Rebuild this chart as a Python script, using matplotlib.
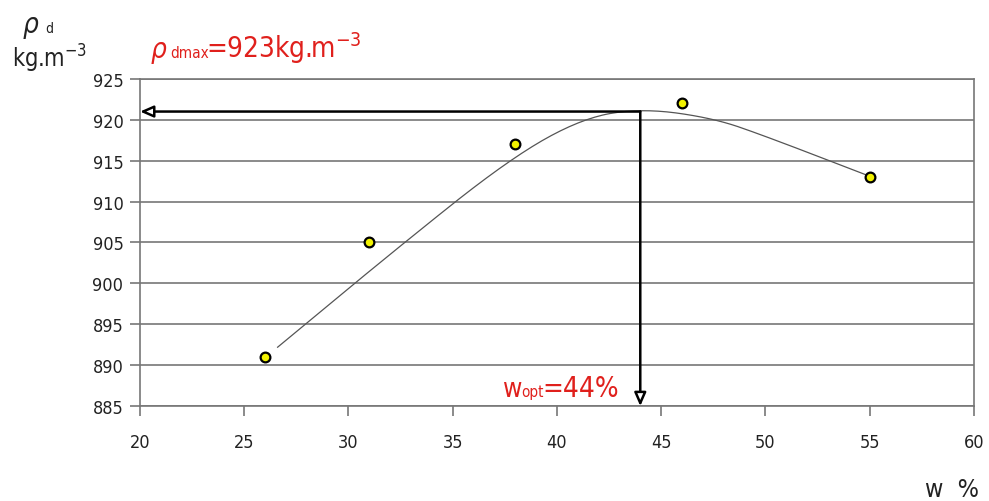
import matplotlib.pyplot as plt
import numpy as np

# measured points
w = [26, 31, 38, 46, 55]
rho = [891, 905, 917, 922, 913]
# trend line
trend_w = [26.6, 32.0, 37.6, 41.2, 44.1, 47.5, 50.0, 55.0]
trend_rho = [892.2, 903.6, 915.0, 920.2, 921.4, 920.2, 918.0, 913.1]
w_opt = 44
rho_max = 921
x_ticks = [20, 25, 30, 35, 40, 45, 50, 55, 60]
y_ticks = [885, 890, 895, 900, 905, 910, 915, 920, 925]


def chaikin(xs, ys, n=4):
    # corner-cutting to smooth the read trend line
    p = np.column_stack([xs, ys]).astype(float)
    for _ in range(n):
        q = 0.75 * p[:-1] + 0.25 * p[1:]
        r = 0.25 * p[:-1] + 0.75 * p[1:]
        mid = np.empty((2 * len(q), 2))
        mid[0::2] = q
        mid[1::2] = r
        p = np.vstack([p[:1], mid, p[-1:]])
    return p[:, 0], p[:, 1]


plt.rcParams['font.family'] = ['DejaVu Sans']
plt.rcParams['font.stretch'] = 'condensed'
fig = plt.figure(figsize=(9.89, 5.02), dpi=100)
ax = fig.add_axes([0.1416, 0.189, 0.843, 0.652])

# trend curve
sx, sy = chaikin(trend_w, trend_rho)
ax.plot(sx, sy, color='#555555', lw=0.9, zorder=3)

ax.plot(w, rho, 'o', ms=7, mfc='#f2f200', mec='black', mew=1.6, zorder=5)

# arrows from the maximum
ax.annotate('', xy=(20, rho_max), xytext=(w_opt, rho_max),
            arrowprops=dict(arrowstyle='-|>,head_length=0.8,head_width=0.35',
                            fc='white', ec='black', lw=1.8, shrinkA=0, shrinkB=0),
            zorder=4)
ax.annotate('', xy=(w_opt, 885), xytext=(w_opt, rho_max),
            arrowprops=dict(arrowstyle='-|>,head_length=0.8,head_width=0.35',
                            fc='white', ec='black', lw=1.8, shrinkA=0, shrinkB=0),
            zorder=4, annotation_clip=False)

ax.set_xlim(20, 60)
ax.set_ylim(885, 925)
ax.set_xticks(x_ticks)
ax.set_yticks(y_ticks)
ax.grid(axis='y', color='#777777', lw=1.2)
ax.set_axisbelow(True)
for s in ax.spines.values():
    s.set_color('#777777')
    s.set_linewidth(1.2)
ax.tick_params(axis='both', colors='#777777', labelcolor='#222222',
               labelsize=13, length=7, width=1.2)
ax.tick_params(axis='x', pad=12)
ax.tick_params(axis='y', pad=5)

red = '#e0201c'
fig.text(0.152, 0.885, r'$\rho$', color=red, fontsize=20, style='italic')
fig.text(0.172, 0.885, 'dmax', color=red, fontsize=11)
fig.text(0.208, 0.885, r'=923kg.m$^{-3}$', color=red, fontsize=20)
fig.text(0.509, 0.21, 'w', color=red, fontsize=19)
fig.text(0.527, 0.21, 'opt', color=red, fontsize=11)
fig.text(0.548, 0.21, '=44%', color=red, fontsize=20)

fig.text(0.022, 0.935, r'$\rho$', color='#222222', fontsize=20, style='italic')
fig.text(0.046, 0.935, 'd', color='#222222', fontsize=10)
fig.text(0.012, 0.865, r'kg.m$^{-3}$', color='#222222', fontsize=17)
fig.text(0.935, 0.01, 'w  %', color='#222222', fontsize=18)

fig.savefig('out.png', dpi=100)
